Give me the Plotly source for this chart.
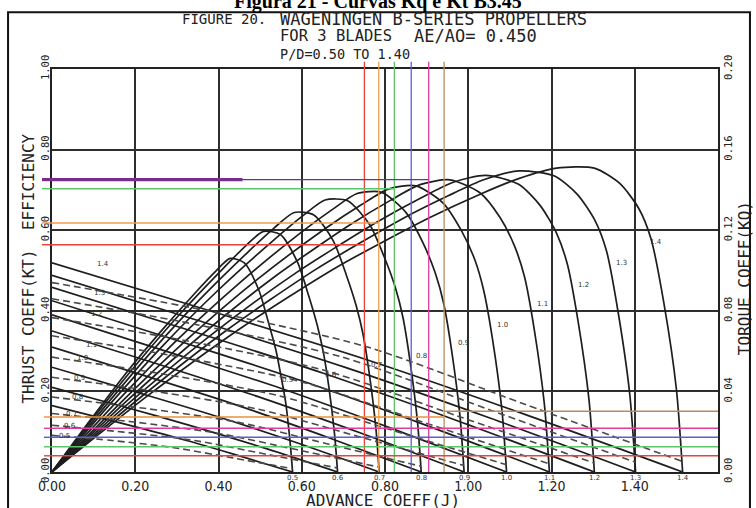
import plotly.graph_objects as go

# ---------------- data ----------------
pitch_ratio = ["0.5", "0.6", "0.7", "0.8", "0.9", "1.0", "1.1", "1.2", "1.3", "1.4"]

# J where KT (and efficiency) reach zero, per P/D
j_zero = [0.578, 0.686, 0.786, 0.887, 0.990, 1.092, 1.195, 1.303, 1.402, 1.515]

# thrust coefficient KT (solid) and torque coefficient KQ (dashed) sampled at same J
kt_J = [
    [0, 0.145, 0.289, 0.434, 0.578],
    [0, 0.172, 0.343, 0.515, 0.686],
    [0, 0.197, 0.393, 0.590, 0.786],
    [0, 0.222, 0.444, 0.665, 0.887],
    [0, 0.248, 0.495, 0.743, 0.990],
    [0, 0.273, 0.546, 0.819, 1.092],
    [0, 0.299, 0.598, 0.896, 1.195],
    [0, 0.326, 0.652, 0.977, 1.303],
    [0, 0.351, 0.701, 1.052, 1.402],
    [0, 0.379, 0.758, 1.136, 1.515],
]
kt_val = [
    [0.165, 0.127, 0.088, 0.045, 0],
    [0.210, 0.162, 0.112, 0.058, 0],
    [0.260, 0.200, 0.139, 0.072, 0],
    [0.310, 0.239, 0.166, 0.085, 0],
    [0.350, 0.270, 0.187, 0.096, 0],
    [0.390, 0.300, 0.209, 0.107, 0],
    [0.425, 0.327, 0.227, 0.117, 0],
    [0.458, 0.353, 0.245, 0.126, 0],
    [0.488, 0.376, 0.261, 0.134, 0],
    [0.519, 0.400, 0.278, 0.143, 0],
]
kq_val = [
    [0.0182, 0.0156, 0.0122, 0.0070, 0.0016],
    [0.0232, 0.0198, 0.0156, 0.0088, 0.0020],
    [0.0290, 0.0248, 0.0194, 0.0110, 0.0024],
    [0.0372, 0.0316, 0.0248, 0.0138, 0.0028],
    [0.0470, 0.0400, 0.0312, 0.0172, 0.0032],
    [0.0570, 0.0484, 0.0378, 0.0206, 0.0036],
    [0.0676, 0.0574, 0.0448, 0.0244, 0.0040],
    [0.0766, 0.0650, 0.0506, 0.0276, 0.0044],
    [0.0860, 0.0730, 0.0568, 0.0308, 0.0048],
    [0.0940, 0.0798, 0.0620, 0.0336, 0.0052],
]

# open-water efficiency curves
eta_J = [
    [0, .087, .173, .260, .347, .393, .428, .462, .497, .520, .538, .549, .561, .572, .578],
    [0, .103, .206, .309, .412, .466, .508, .549, .590, .617, .638, .652, .665, .679, .686],
    [0, .118, .236, .354, .472, .534, .582, .629, .676, .707, .731, .747, .762, .778, .786],
    [0, .133, .266, .399, .532, .603, .656, .710, .763, .798, .825, .843, .860, .878, .887],
    [0, .149, .297, .446, .594, .673, .733, .792, .851, .891, .921, .941, .960, .980, .990],
    [0, .164, .328, .491, .655, .743, .808, .874, .939, .983, 1.016, 1.037, 1.059, 1.081, 1.092],
    [0, .179, .359, .538, .717, .813, .884, .956, 1.028, 1.076, 1.111, 1.135, 1.159, 1.183, 1.195],
    [0, .195, .391, .586, .782, .886, .964, 1.042, 1.121, 1.173, 1.212, 1.238, 1.264, 1.290, 1.303],
    [0, .210, .421, .631, .841, .953, 1.037, 1.122, 1.206, 1.262, 1.304, 1.332, 1.360, 1.388, 1.402],
    [0, .227, .455, .682, .909, 1.030, 1.121, 1.212, 1.303, 1.364, 1.409, 1.439, 1.470, 1.500, 1.515],
]
eta_val = [
    [0, .122, .239, .347, .448, .498, .530, .519, .451, .371, .302, .244, .175, .074, 0],
    [0, .139, .271, .394, .506, .562, .597, .589, .520, .436, .361, .296, .212, .092, 0],
    [0, .151, .295, .427, .547, .606, .644, .638, .573, .489, .412, .343, .246, .110, 0],
    [0, .161, .313, .451, .575, .636, .675, .673, .614, .534, .457, .384, .276, .125, 0],
    [0, .167, .324, .465, .591, .651, .691, .694, .643, .569, .493, .418, .302, .140, 0],
    [0, .171, .332, .476, .603, .663, .702, .710, .668, .600, .526, .451, .325, .153, 0],
    [0, .176, .340, .487, .614, .674, .713, .725, .693, .632, .561, .485, .351, .167, 0],
    [0, .180, .347, .494, .621, .680, .719, .736, .714, .661, .593, .516, .373, .180, 0],
    [0, .183, .353, .501, .628, .686, .725, .747, .735, .689, .625, .549, .397, .193, 0],
    [0, .187, .358, .507, .632, .690, .728, .754, .754, .716, .655, .579, .419, .206, 0],
]

# hand-drawn coloured guide lines (J values and efficiency / KT levels)
guide_J = [0.7505, 0.785, 0.8225, 0.863, 0.905, 0.942]
guide_colors = ["#e8423a", "#f29b4c", "#5cc46a", "#5d5dd4", "#e23c9c", "#b98c5e"]
eta_level = [0.7256, 0.703, 0.618, 0.564]
eta_level_end = [0.905, 0.8225, 0.785, 0.7505]
eta_level_colors = ["#5a3a92", "#5cc46a", "#f29b4c", "#e8423a"]
purple_thick_end = 0.4577
kt_level = [0.1365, 0.1084, 0.0861, 0.0625, 0.0402]
kt_level_colors = ["#e8913c", "#e23c9c", "#5d5dd4", "#5cc46a", "#e8423a"]
kt_step_level = 0.1506

# ticks
x_ticks = [0, 0.2, 0.4, 0.6, 0.8, 1.0, 1.2, 1.4]
x_ticklabels = ["0.00", "0.20", "0.40", "0.60", "0.80", "1.00", "1.20", "1.40"]
y_ticks = [0, 0.2, 0.4, 0.6, 0.8, 1.0]
y_ticklabels = ["0.00", "0.20", "0.40", "0.60", "0.80", "1.00"]
y2_ticks = [0, 0.04, 0.08, 0.12, 0.16, 0.20]
y2_ticklabels = ["0.00", "0.04", "0.08", "0.12", "0.16", "0.20"]

# ---------------- figure ----------------
FONT = "Liberation Sans Narrow, DejaVu Sans Condensed, DejaVu Sans Mono, sans-serif"
INK = "#1e1e1e"

fig = go.Figure()
for i in range(len(pitch_ratio)):
    fig.add_trace(go.Scatter(x=kt_J[i], y=kt_val[i], mode="lines",
                             line=dict(color=INK, width=1.7, shape="spline", smoothing=0.8),
                             hoverinfo="skip", showlegend=False))
    fig.add_trace(go.Scatter(x=kt_J[i], y=kq_val[i], mode="lines", yaxis="y2",
                             line=dict(color="#4a4a4a", width=1.6, dash="7px,4px",
                                       shape="spline", smoothing=0.8),
                             hoverinfo="skip", showlegend=False))
    fig.add_trace(go.Scatter(x=eta_J[i], y=eta_val[i], mode="lines",
                             line=dict(color=INK, width=1.7, shape="spline", smoothing=0.7),
                             hoverinfo="skip", showlegend=False))

shapes = []
# vertical guides
for xj, c in zip(guide_J, guide_colors):
    shapes.append(dict(type="line", xref="x", yref="paper", x0=xj, x1=xj, y0=0, y1=1.018,
                       line=dict(color=c, width=1.3), layer="above"))
# efficiency level guides
for lv, xe, c in zip(eta_level, eta_level_end, eta_level_colors):
    shapes.append(dict(type="line", xref="x", yref="y", x0=0, x1=xe, y0=lv, y1=lv,
                       line=dict(color=c, width=1.4), layer="above"))
    shapes.append(dict(type="line", xref="paper", yref="y", x0=-0.015, x1=0, y0=lv, y1=lv,
                       line=dict(color=c, width=1.4), layer="above"))
shapes.append(dict(type="line", xref="x", yref="y", x0=0, x1=purple_thick_end,
                   y0=eta_level[0], y1=eta_level[0],
                   line=dict(color="#7b2c8e", width=3.2), layer="above"))
shapes.append(dict(type="line", xref="paper", yref="y", x0=-0.015, x1=0,
                   y0=eta_level[0], y1=eta_level[0],
                   line=dict(color="#7b2c8e", width=3.2), layer="above"))
# KT level guides
for k, (lv, c) in enumerate(zip(kt_level, kt_level_colors)):
    x_end = guide_J[-1] if k == 0 else 1.6
    shapes.append(dict(type="line", xref="x", yref="y", x0=0, x1=x_end, y0=lv, y1=lv,
                       line=dict(color=c, width=1.4), layer="above"))
    shapes.append(dict(type="line", xref="paper", yref="y", x0=-0.012, x1=0, y0=lv, y1=lv,
                       line=dict(color=c, width=1.4), layer="above"))
shapes.append(dict(type="line", xref="x", yref="y", x0=guide_J[-1], x1=1.6,
                   y0=kt_step_level, y1=kt_step_level,
                   line=dict(color="#b98c5e", width=1.4), layer="above"))
# outer frame
shapes.append(dict(type="rect", xref="paper", yref="paper", x0=-0.066, x1=1.048,
                   y0=-0.2, y1=1.141, line=dict(color="#111", width=2)))

annotations = []
# title (cut at top of the picture)
annotations.append(dict(text="<b>Figura 21 - Curvas Kq e Kt B3.45</b>", xref="paper", yref="paper",
                        x=0.4895, y=1.168, xanchor="center", yanchor="middle", showarrow=False,
                        font=dict(family="Liberation Serif, Times New Roman, serif", size=20,
                                  color="#000")))
hdr = dict(xref="paper", yref="paper", showarrow=False, xanchor="left", yanchor="middle",
           font=dict(family="DejaVu Sans Mono, monospace", size=14, color="#222"))
annotations.append(dict(hdr, text="FIGURE 20.", x=0.192, y=1.124))
annotations.append(dict(hdr, text="WAGENINGEN B-SERIES PROPELLERS", x=0.339, y=1.124,
                        font=dict(family="DejaVu Sans Mono, monospace", size=17, color="#222")))
annotations.append(dict(hdr, text="FOR 3 BLADES", x=0.339, y=1.081,
                        font=dict(family="DejaVu Sans Mono, monospace", size=15.5, color="#222")))
annotations.append(dict(hdr, text="AE/AO= 0.450", x=0.541, y=1.081,
                        font=dict(family="DejaVu Sans Mono, monospace", size=17, color="#222")))
annotations.append(dict(hdr, text="P/D=0.50 TO 1.40", x=0.339, y=1.036,
                        font=dict(family="DejaVu Sans Mono, monospace", size=13.5, color="#222")))
# axis titles
ttl = dict(family="DejaVu Sans Mono, monospace", size=16, color="#222")
annotations.append(dict(text="THRUST COEFF(KT)  EFFICIENCY", xref="paper", yref="paper",
                        x=-0.036, y=0.505, textangle=-90, showarrow=False, font=ttl,
                        xanchor="center", yanchor="middle"))
annotations.append(dict(text="TORQUE COEFF(KQ)", xref="paper", yref="paper",
                        x=1.039, y=0.481, textangle=-90, showarrow=False, font=ttl,
                        xanchor="center", yanchor="middle"))
annotations.append(dict(text="ADVANCE COEFF(J)", xref="paper", yref="paper",
                        x=0.497, y=-0.07, showarrow=False, font=ttl,
                        xanchor="center", yanchor="middle"))
# small curve labels
lab = dict(family="DejaVu Sans, sans-serif", size=7, color="#333")
for xj, t in zip(j_zero, pitch_ratio):
    annotations.append(dict(text=t, x=xj, xref="x", y=-0.014, yref="paper",
                            showarrow=False, font=lab, yanchor="middle"))
kq_label_pos = [(0.031, 0.090), (0.043, 0.115), (0.048, 0.145), (0.062, 0.186), (0.067, 0.233),
                (0.074, 0.282), (0.095, 0.315), (0.107, 0.393), (0.115, 0.445), (0.122, 0.515)]
for (xj, yv), t in zip(kq_label_pos, pitch_ratio):
    annotations.append(dict(text=t, x=xj, y=yv, xref="x", yref="y", showarrow=False, font=lab))
eta_label_pos = [(0.566, 0.228), (0.671, 0.240), (0.780, 0.265), (0.888, 0.287), (0.988, 0.321),
                 (1.082, 0.365), (1.178, 0.418), (1.278, 0.464), (1.367, 0.519), (1.451, 0.570)]
for (xj, yv), t in zip(eta_label_pos, pitch_ratio):
    annotations.append(dict(text=t, x=xj, y=yv, xref="x", yref="y", showarrow=False, font=lab))

tick_font = dict(family="DejaVu Sans Mono, monospace", size=10.5, color="#222")
axis_common = dict(showgrid=True, gridcolor="#2e2e2e", gridwidth=1.5, showline=True,
                   linecolor="#222", linewidth=2, mirror=True, zeroline=False, ticks="",
                   automargin=False)

fig.update_layout(
    width=756, height=508,
    margin=dict(l=52, r=38, t=69, b=36),
    paper_bgcolor="white", plot_bgcolor="white",
    showlegend=False,
    xaxis=dict(axis_common, range=[0, 1.6], tickvals=x_ticks, ticktext=x_ticklabels,
               tickfont=dict(family=FONT, size=14, color="#222")),
    yaxis=dict(axis_common, range=[0, 1.0], tickvals=y_ticks, ticktext=y_ticklabels,
               tickangle=-90, tickfont=tick_font, ticklabelstandoff=-3),
    yaxis2=dict(overlaying="y", side="right", range=[0, 0.2], tickvals=y2_ticks,
                ticktext=y2_ticklabels, tickangle=-90, tickfont=tick_font, showgrid=False,
                zeroline=False, showline=False, ticks="", automargin=False,
                ticklabelstandoff=2),
    shapes=shapes,
    annotations=annotations,
)

fig.write_html("out.html", config={"displayModeBar": False},
               post_script="document.body.style.margin='0';document.body.style.overflow='hidden';")
